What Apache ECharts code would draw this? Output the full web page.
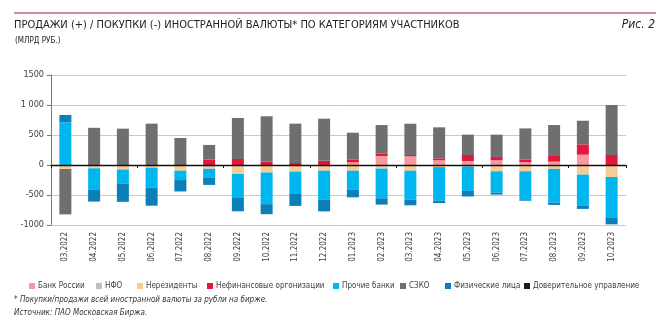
<!DOCTYPE html>
<html>
<head>
<meta charset="utf-8">
<script src="https://cdn.jsdelivr.net/npm/echarts@6/dist/echarts.min.js"></script>
<style>
html,body{margin:0;padding:0;background:#fff;}
#c{width:661px;height:329px;}
</style>
</head>
<body>
<div id="c"></div>
<script>
const categories = ['03.2022','04.2022','05.2022','06.2022','07.2022','08.2022','09.2022','10.2022','11.2022','12.2022','01.2023','02.2023','03.2023','04.2023','05.2023','06.2023','07.2023','08.2023','09.2023','10.2023'];
const seriesNames = ['Банк России','НФО','Нерезиденты','Нефинансовые оргонизации','Прочие банки','СЗКО','Физические лица','Доверительное управление'];
const bankRussia = [0,0,0,0,0,-20,0,0,0,0,44,150,144,78,67,78,44,56,172,0];
const nfo = [0,-15,-15,-10,0,-20,-20,-15,-10,-10,-10,-10,0,-10,-10,0,0,-10,0,0];
const nonResidents = [-67,-40,-60,-35,-95,-25,-130,-110,-100,-85,-85,-50,-95,-25,-15,-105,-105,-55,-160,-200];
const nonFinancial = [0,0,0,0,0,89,100,56,33,72,44,44,22,33,100,56,44,94,172,167];
const otherBanks = [711,-360,-233,-333,-156,-142,-400,-528,-361,-478,-311,-494,-483,-561,-406,-356,-483,-561,-522,-672];
const szko = [-756,620,606,689,450,245,684,756,656,700,450,472,522,517,339,372,522,517,394,833];
const individuals = [122,-195,-306,-300,-190,-125,-222,-167,-211,-200,-133,-106,-94,-39,-94,-33,-11,-39,-50,-117];
const trustMgmt = [0,0,0,0,0,0,0,0,0,0,0,0,0,0,0,0,0,0,0,0];
const yTickValues = [-1000,-500,0,500,1000,1500];
const yTickLabels = ['-1000','-500','0','500','1 000','1500'];

const seriesData = [bankRussia,nfo,nonResidents,nonFinancial,otherBanks,szko,individuals,trustMgmt];
const colors = ['#f59a9e','#bfbfbf','#f9ca92','#e2173d','#00b6ee','#6f6f6f','#0b80b8','#1a1a1a'];
const FONT = "'Liberation Sans Narrow','DejaVu Sans Condensed','Liberation Sans',sans-serif";
const legendLeft = [29,96,137,207,333,400,445,524];

const chart = echarts.init(document.getElementById('c'), null, {renderer:'canvas'});
const option = {
  animation:false,
  color: colors,
  textStyle:{fontFamily:FONT},
  grid:{left:51,right:35,top:75,bottom:104,containLabel:false},
  legend: seriesNames.map((n,i)=>({
    data:[n], left:legendLeft[i], top:282, itemWidth:6, itemHeight:6, icon:'rect', itemGap:4,
    textStyle:{fontSize:8,color:'#404040',fontFamily:FONT,padding:[0,0,0,-2]},
    padding:0, selectedMode:false
  })),
  xAxis:[{
    type:'category', data:categories, position:'bottom',
    axisLine:{show:false,onZero:false}, axisTick:{show:false},
    axisLabel:{rotate:90,fontSize:8,color:'#404040',margin:7,fontFamily:FONT}
  },{
    type:'category', data:categories, position:'bottom', z:10,
    axisLine:{show:true,onZero:true,lineStyle:{color:'#111',width:1.3}},
    axisTick:{show:true,length:3,lineStyle:{color:'#111'}},
    axisLabel:{show:false}
  }],
  yAxis:{
    type:'value', min:-1000, max:1500, interval:500,
    axisLine:{show:true,lineStyle:{color:'#777'}},
    axisTick:{show:true,length:4,lineStyle:{color:'#777'}},
    splitLine:{lineStyle:{color:'#c9c9c9',width:1}},
    axisLabel:{fontSize:9,color:'#404040',margin:7,fontFamily:FONT,
      formatter:v=>{const k=yTickValues.indexOf(v);return k>=0?yTickLabels[k]:String(v);}}
  },
  series: seriesNames.map((n,i)=>({
    name:n, type:'bar', stack:'total', data:seriesData[i], barWidth:12,
    itemStyle:{color:colors[i]}, xAxisIndex:0
  })),
  title:[{
    text:'ПРОДАЖИ (+) / ПОКУПКИ (-) ИНОСТРАННОЙ ВАЛЮТЫ* ПО КАТЕГОРИЯМ УЧАСТНИКОВ',
    left:14, top:20, padding:0,
    textStyle:{fontSize:11,fontWeight:'normal',color:'#222',fontFamily:FONT}
  },{
    text:'(МЛРД РУБ.)', left:15, top:37, padding:0,
    textStyle:{fontSize:8,fontWeight:'normal',color:'#222',fontFamily:FONT}
  },{
    text:'Рис. 2', right:6, top:19, padding:0,
    textStyle:{fontSize:12,fontWeight:'normal',fontStyle:'italic',color:'#222',fontFamily:FONT}
  }],
  graphic:[{
    type:'line', shape:{x1:14,y1:13,x2:656,y2:13}, style:{stroke:'#d98a94',lineWidth:2}
  },{
    type:'text', left:14, top:296,
    style:{text:'* Покупки/продажи всей иностранной валюты за рубли на бирже.',font:"italic 8px "+FONT,fill:'#333'}
  },{
    type:'text', left:14, top:309,
    style:{text:'Источник: ПАО Московская Биржа.',font:"italic 8px "+FONT,fill:'#333'}
  }]
};
chart.setOption(option);
</script>
</body>
</html>
